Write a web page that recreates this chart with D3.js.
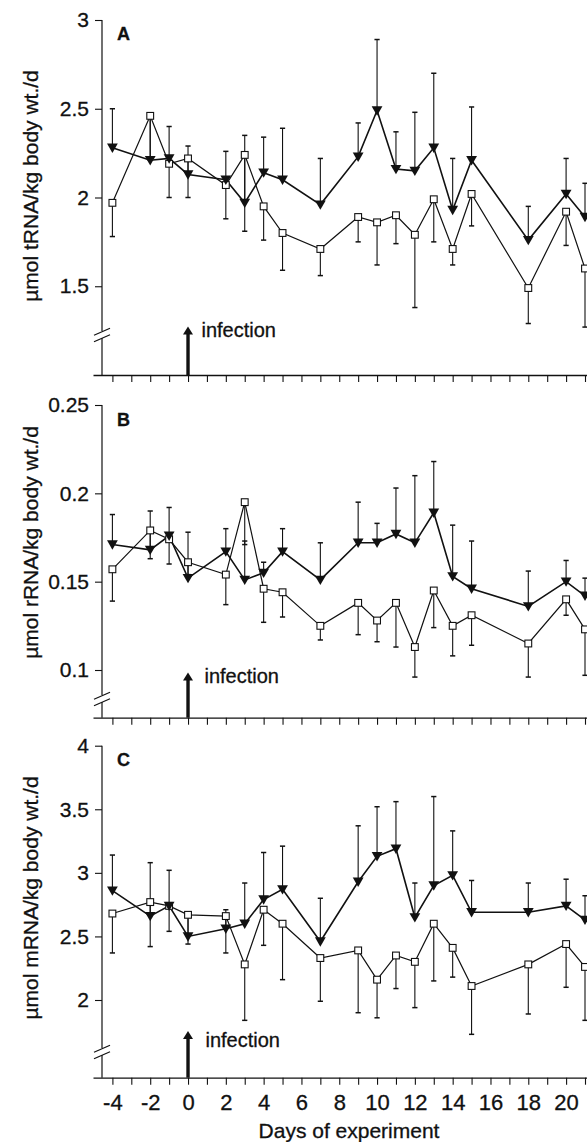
<!DOCTYPE html>
<html><head><meta charset="utf-8">
<script src="https://cdn.jsdelivr.net/npm/d3@7"></script>
<style>
body{margin:0;background:#fff}
svg{display:block}
text{font-family:"Liberation Sans",Arial,Helvetica,sans-serif;fill:#111;stroke:#111;stroke-width:0.3px}
</style>
</head><body>
<svg id="chart" width="587" height="1142"></svg>
<script>
// ---------- data ----------
const days = [-4,-2,-1,0,2,3,4,5,7,9,10,11,12,13,14,15,18,20,21];
const xTickDays = d3.range(-4, 22);
const xTickLabels = ["-4","-2","0","2","4","6","8","10","12","14","16","18","20"];
const xTitle = "Days of experiment";

// Panel A: tRNA
const tRNA_tri   = [2.28,2.21,2.22,2.13,2.10,1.97,2.14,2.10,1.96,2.23,2.49,2.16,2.15,2.28,1.93,2.21,1.76,2.02,1.89];
const tRNA_triHi = [2.50,2.45,2.40,2.29,2.26,2.35,2.34,2.39,2.22,2.42,2.89,2.37,2.48,2.70,2.22,2.51,1.95,2.22,2.08];
const tRNA_sq    = [1.97,2.46,2.19,2.22,2.07,2.24,1.95,1.80,1.71,1.89,1.86,1.90,1.79,1.99,1.71,2.02,1.49,1.92,1.60];
const tRNA_sqLo  = [1.78,2.21,2.00,2.00,1.88,1.81,1.76,1.59,1.56,1.75,1.62,1.74,1.38,1.75,1.62,1.84,1.29,1.73,1.27];
const tRNA_ticks = [1.5,2,2.5,3];
const tRNA_tickLabels = ["1.5","2","2.5","3"];

// Panel B: rRNA
const rRNA_tri   = [0.171,0.168,0.176,0.152,0.167,0.151,0.155,0.167,0.151,0.172,0.172,0.177,0.172,0.189,0.153,0.146,0.136,0.150,0.142];
const rRNA_triHi = [0.188,0.190,0.192,0.178,0.180,0.173,0.161,0.180,0.172,0.195,0.183,0.203,0.210,0.218,0.182,0.173,0.156,0.162,0.152];
const rRNA_sq    = [0.157,0.179,0.174,0.161,0.154,0.195,0.146,0.144,0.125,0.138,0.128,0.138,0.113,0.145,0.125,0.131,0.115,0.140,0.123];
const rRNA_sqLo  = [0.139,0.163,0.160,0.154,0.137,0.171,0.127,0.130,0.117,0.120,0.116,0.113,0.096,0.124,0.108,0.114,0.096,0.131,0.097];
const rRNA_ticks = [0.1,0.15,0.2,0.25];
const rRNA_tickLabels = ["0.1","0.15","0.2","0.25"];

// Panel C: mRNA
const mRNA_tri   = [2.86,2.66,2.74,2.50,2.56,2.60,2.79,2.87,2.46,2.93,3.13,3.19,2.65,2.90,2.98,2.69,2.69,2.74,2.63];
const mRNA_triHi = [3.14,3.08,3.02,2.69,2.71,2.92,3.16,3.21,2.80,3.37,3.52,3.56,2.92,3.60,3.33,2.94,2.92,2.95,2.82];
const mRNA_sq    = [2.68,2.77,2.74,2.67,2.66,2.28,2.71,2.60,2.33,2.39,2.16,2.35,2.30,2.60,2.41,2.11,2.28,2.44,2.26];
const mRNA_sqLo  = [2.37,2.42,2.54,2.44,2.37,1.84,2.43,2.16,1.99,1.90,1.86,2.09,1.94,2.15,2.18,1.73,1.89,2.10,1.84];
const mRNA_ticks = [2,2.5,3,3.5,4];
const mRNA_tickLabels = ["2","2.5","3","3.5","4"];

const panelLetters = ["A","B","C"];
const yLabels = ["µmol tRNA/kg body wt./d","µmol rRNA/kg body wt./d","µmol mRNA/kg body wt./d"];
const annotation = "infection";

// ---------- layout ----------
const svg = d3.select("#chart");
const x = d3.scaleLinear().domain([-5, 21]).range([93.5, 585]);
const yAxisX = 102;

const panels = [
  {tri:tRNA_tri, triHi:tRNA_triHi, sq:tRNA_sq, sqLo:tRNA_sqLo, ticks:tRNA_ticks, tickLabels:tRNA_tickLabels,
   domain:[1.0,3.0], range:[375,20], brk:335, labelY:186, letterY:39.5, infY:336.5, infX:201.5, arrowTop:326.5},
  {tri:rRNA_tri, triHi:rRNA_triHi, sq:rRNA_sq, sqLo:rRNA_sqLo, ticks:rRNA_ticks, tickLabels:rRNA_tickLabels,
   domain:[0.25-(717.7-405)/1766.7,0.25], range:[717.7,405], brk:699, labelY:542.5, letterY:426, infY:682.5, infX:204.5, arrowTop:672.5},
  {tri:mRNA_tri, triHi:mRNA_triHi, sq:mRNA_sq, sqLo:mRNA_sqLo, ticks:mRNA_ticks, tickLabels:mRNA_tickLabels,
   domain:[4-(1077.7-745.7)/127.15,4], range:[1077.7,745.7], brk:1052, labelY:898, letterY:765.5, infY:1046.5, infX:205.5, arrowTop:1031}
];

panels.forEach((p, pi) => {
  const y = d3.scaleLinear().domain(p.domain).range(p.range);
  const g = svg.append("g");
  const bottom = p.range[0], top = p.range[1];

  // x axis (line + ticks)
  const xAxis = d3.axisBottom(x).tickValues(xTickDays).tickSize(7).tickSizeOuter(0)
    .tickFormat(d => (pi === 2 && d % 2 === 0 && d <= 20) ? xTickLabels[(d + 4) / 2] : "")
    .tickPadding(10);
  const xa = g.append("g").attr("transform", `translate(0,${bottom})`).call(xAxis);
  xa.select(".domain").attr("d", `M${x.range()[0]},0.5H587`).attr("stroke", "#111").attr("stroke-width", 1.3);
  xa.selectAll(".tick line").attr("stroke", "#111").attr("stroke-width", 1.1);
  xa.selectAll(".tick text").attr("font-size", 22).attr("fill", "#111")
    .attr("font-family", '"Liberation Sans",Arial,sans-serif');

  // y axis ticks + labels
  const yAxis = d3.axisLeft(y).tickValues(p.ticks).tickSize(7).tickSizeOuter(0).tickPadding(6)
    .tickFormat((d, i) => p.tickLabels[i]);
  const ya = g.append("g").attr("transform", `translate(${yAxisX},0)`).call(yAxis);
  ya.select(".domain").remove();
  ya.selectAll(".tick line").attr("stroke", "#111").attr("stroke-width", 1.1);
  ya.selectAll(".tick text").attr("font-size", 21).attr("fill", "#111")
    .attr("font-family", '"Liberation Sans",Arial,sans-serif');

  // y axis line with break
  g.append("line").attr("x1", yAxisX).attr("x2", yAxisX).attr("y1", top).attr("y2", p.brk - 4)
    .attr("stroke", "#111").attr("stroke-width", 1.2);
  g.append("line").attr("x1", yAxisX).attr("x2", yAxisX).attr("y1", p.brk + 3).attr("y2", bottom)
    .attr("stroke", "#111").attr("stroke-width", 1.2);
  [-3.3, 3.3].forEach(off => {
    g.append("line").attr("x1", yAxisX - 8).attr("y1", p.brk + off + 3.5)
      .attr("x2", yAxisX + 8).attr("y2", p.brk + off - 3.5)
      .attr("stroke", "#111").attr("stroke-width", 1.2);
  });

  // y label
  g.append("text").attr("transform", `translate(38,${p.labelY}) rotate(-90)`)
    .attr("text-anchor", "middle").attr("font-size", 21).text(yLabels[pi]);

  // panel letter
  g.append("text").attr("x", 117).attr("y", p.letterY).attr("font-size", 18)
    .attr("font-weight", "bold").text(panelLetters[pi]);

  // infection arrow
  const ax = x(0);
  g.append("line").attr("x1", ax).attr("x2", ax).attr("y1", p.arrowTop + 6).attr("y2", bottom)
    .attr("stroke", "#111").attr("stroke-width", 3.4);
  g.append("path").attr("d", `M${ax - 5},${p.arrowTop + 8}L${ax},${p.arrowTop}L${ax + 5},${p.arrowTop + 8}Z`)
    .attr("fill", "#111");
  g.append("text").attr("x", p.infX).attr("y", p.infY).attr("font-size", 20).text(annotation);

  const pts = days.map((d, i) => ({d, tri: p.tri[i], triHi: p.triHi[i], sq: p.sq[i], sqLo: p.sqLo[i]}));

  // lines
  const lineTri = d3.line().x(d => x(d.d)).y(d => y(d.tri));
  const lineSq = d3.line().x(d => x(d.d)).y(d => y(d.sq));
  g.append("path").attr("d", lineSq(pts)).attr("fill", "none").attr("stroke", "#111").attr("stroke-width", 1.2);
  g.append("path").attr("d", lineTri(pts)).attr("fill", "none").attr("stroke", "#111").attr("stroke-width", 1.6);

  // error bars: triangles up, squares down
  const eb = g.append("g").attr("stroke", "#111").attr("stroke-width", 1.1);
  pts.forEach(q => {
    const cx = x(q.d);
    eb.append("line").attr("x1", cx).attr("x2", cx).attr("y1", y(q.tri)).attr("y2", y(q.triHi));
    eb.append("line").attr("x1", cx - 2.6).attr("x2", cx + 2.6).attr("y1", y(q.triHi)).attr("y2", y(q.triHi)).attr("stroke-width", 1.5);
    eb.append("line").attr("x1", cx).attr("x2", cx).attr("y1", y(q.sq)).attr("y2", y(q.sqLo));
    eb.append("line").attr("x1", cx - 2.6).attr("x2", cx + 2.6).attr("y1", y(q.sqLo)).attr("y2", y(q.sqLo)).attr("stroke-width", 1.5);
  });

  // markers
  g.selectAll(".sq").data(pts).join("rect").attr("class", "sq")
    .attr("x", d => x(d.d) - 3.4).attr("y", d => y(d.sq) - 3.4).attr("width", 6.8).attr("height", 6.8)
    .attr("fill", "#fff").attr("stroke", "#111").attr("stroke-width", 1.1);
  g.selectAll(".tri").data(pts).join("path").attr("class", "tri")
    .attr("d", d => { const cx = x(d.d), cy = y(d.tri); return `M${cx - 5.4},${cy - 4.2}L${cx + 5.4},${cy - 4.2}L${cx},${cy + 5.2}Z`; })
    .attr("fill", "#111");
});

// x title
svg.append("text").attr("x", 349).attr("y", 1138).attr("text-anchor", "middle")
  .attr("font-size", 21).text(xTitle);
</script>
</body></html>
